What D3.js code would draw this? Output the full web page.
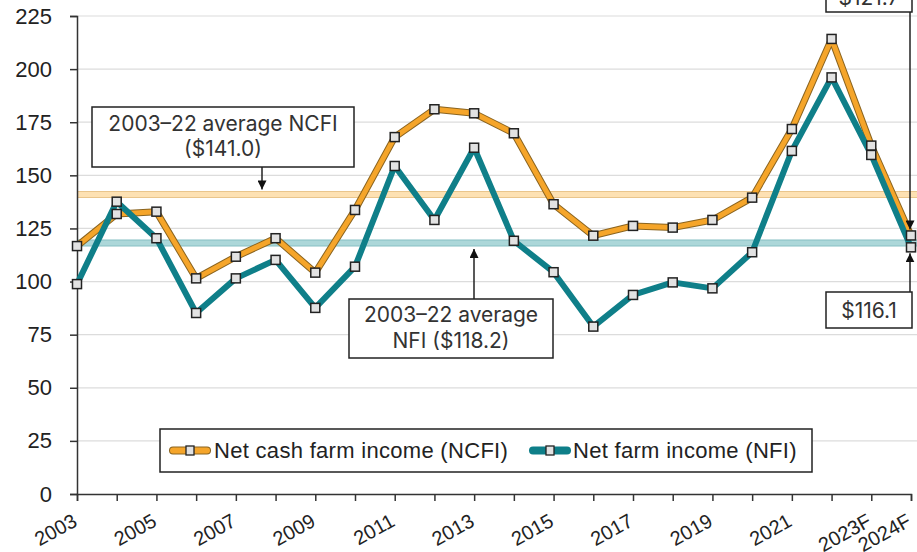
<!DOCTYPE html>
<html><head><meta charset="utf-8">
<script src="https://cdn.jsdelivr.net/npm/d3@7"></script>
<style>
body{margin:0;background:#fff;}
svg{display:block;}
</style></head>
<body>
<svg id="chart" width="917" height="552"></svg>
<script>
const years = [2003,2004,2005,2006,2007,2008,2009,2010,2011,2012,2013,2014,2015,2016,2017,2018,2019,2020,2021,2022,2023,2024];
const ncfi = [116.7,131.8,132.9,101.5,111.7,120.4,104.2,133.7,168.0,181.1,179.2,169.8,136.4,121.6,126.2,125.4,129.0,139.5,171.8,214.2,164.0,121.7];
const nfi  = [98.8,137.6,120.4,85.2,101.5,110.2,87.6,107.0,154.4,129.0,163.0,119.2,104.4,78.8,93.7,99.6,96.8,113.8,161.5,196.1,159.6,116.1];
const yTicks = [0,25,50,75,100,125,150,175,200,225];
const xLabels = {2003:"2003",2005:"2005",2007:"2007",2009:"2009",2011:"2011",2013:"2013",2015:"2015",2017:"2017",2019:"2019",2021:"2021",2023:"2023F",2024:"2024F"};
const avgNCFI = 141.0, avgNFI = 118.2;
const seriesNames = ["Net cash farm income (NCFI)","Net farm income (NFI)"];

const ORANGE = "#f5a52a", TEAL = "#0f7f89";
const svg = d3.select("#chart");
const x = d3.scaleLinear().domain([2003,2024]).range([77,911]);
const y = d3.scaleLinear().domain([0,225]).range([494,16]);

// gridlines
svg.append("g").selectAll("line").data(yTicks.filter(d=>d>0)).join("line")
  .attr("x1",77).attr("x2",917).attr("y1",d=>y(d)).attr("y2",d=>y(d))
  .attr("stroke","#dcdcdc").attr("stroke-width",1.2);

// average bands
function band(v, fill, edge){
  svg.append("line").attr("x1",77).attr("x2",917).attr("y1",y(v)).attr("y2",y(v))
    .attr("stroke",edge).attr("stroke-width",7);
  svg.append("line").attr("x1",77).attr("x2",917).attr("y1",y(v)).attr("y2",y(v))
    .attr("stroke",fill).attr("stroke-width",5);
}
band(avgNCFI,"#fde1b3","#e9c58c");
band(avgNFI,"#acd7d9","#86bfc3");

// axes
const yAxis = d3.axisLeft(y).tickValues(yTicks).tickSize(7).tickPadding(18);
const gy = svg.append("g").attr("transform","translate(77,0)").call(yAxis);
gy.select(".domain").attr("stroke","#333").attr("stroke-width",1.5);
gy.selectAll(".tick line").attr("stroke","#333").attr("stroke-width",1.5);
gy.selectAll("text").attr("font-family","Liberation Sans, Arial, sans-serif").attr("font-size",22).attr("fill","#222");

const xAxis = d3.axisBottom(x).tickValues(years).tickSize(7).tickFormat(d=>xLabels[d]||"");
const gx = svg.append("g").attr("transform","translate(0,494)").call(xAxis);
gx.select(".domain").attr("stroke","#333").attr("stroke-width",1.5);
gx.selectAll(".tick line").attr("stroke","#333").attr("stroke-width",1.5);
gx.selectAll("text").attr("font-family","Liberation Sans, Arial, sans-serif").attr("font-size",20).attr("fill","#222")
  .attr("text-anchor","end").attr("dy",0).attr("y",0)
  .attr("transform","translate(1,31) rotate(-29)");

// lines
const line = d3.line().x((d,i)=>x(years[i])).y(d=>y(d));
svg.append("path").datum(ncfi).attr("d",line).attr("fill","none").attr("stroke","#8a6420").attr("stroke-width",7).attr("stroke-linejoin","round");
svg.append("path").datum(ncfi).attr("d",line).attr("fill","none").attr("stroke",ORANGE).attr("stroke-width",5).attr("stroke-linejoin","round");
svg.append("path").datum(nfi).attr("d",line).attr("fill","none").attr("stroke",TEAL).attr("stroke-width",6).attr("stroke-linejoin","round");

function markers(data){
  svg.append("g").selectAll("rect").data(data).join("rect")
    .attr("x",(d,i)=>x(years[i])-4.5).attr("y",d=>y(d)-4.5)
    .attr("width",9).attr("height",9)
    .attr("fill","#e2e2e2").attr("stroke","#222").attr("stroke-width",1.5);
}
markers(ncfi);
markers(nfi);

// arrow marker
svg.append("defs").append("marker").attr("id","arr").attr("viewBox","0 0 10 10")
  .attr("refX",10).attr("refY",5).attr("markerWidth",9).attr("markerHeight",9)
  .attr("markerUnits","userSpaceOnUse").attr("orient","auto")
  .append("path").attr("d","M0,0 L10,5 L0,10 Z").attr("fill","#111");

const annFont = "Inter, Roboto, sans-serif";
function box(x0,y0,w,h,lines,cx,cy0,lh,fs){
  svg.append("rect").attr("x",x0).attr("y",y0).attr("width",w).attr("height",h)
    .attr("fill","#fff").attr("stroke","#222").attr("stroke-width",1.5);
  lines.forEach((t,i)=>svg.append("text").attr("x",cx).attr("y",cy0+i*lh)
    .attr("text-anchor","middle").attr("font-family",annFont).attr("font-size",fs).attr("fill","#333").text(t));
}
function arrow(x1,y1,x2,y2){
  svg.append("line").attr("x1",x1).attr("y1",y1).attr("x2",x2).attr("y2",y2)
    .attr("stroke","#222").attr("stroke-width",1.5).attr("marker-end","url(#arr)");
}

// NCFI average annotation
box(92,107,262,60,["2003\u201322 average NCFI","($141.0)"],223,131,25,21);
arrow(262,167,262,y(avgNCFI)-5);

// NFI average annotation
box(349,299,204,59,["2003\u201322 average","NFI ($118.2)"],451,322,26,21);
arrow(474,299,474,y(avgNFI)+6);

// 2024 annotations
box(826,-26,86,38,["$121.7"],869,5,0,21);
arrow(910,12,910,y(ncfi[21])-6);
box(826,292,86,36,["$116.1"],869,318,0,21);
arrow(910,292,910,y(nfi[21])+6);

// legend
const lg = svg.append("g");
lg.append("rect").attr("x",160).attr("y",429).attr("width",652).attr("height",43)
  .attr("fill","#fff").attr("stroke","#222").attr("stroke-width",1.5);
const items = [{name:seriesNames[0],color:ORANGE,edge:"#8a6420",sx:173,tx:214},{name:seriesNames[1],color:TEAL,edge:TEAL,sx:533,tx:573}];
items.forEach(it=>{
  lg.append("line").attr("x1",it.sx).attr("x2",it.sx+34).attr("y1",450.5).attr("y2",450.5)
    .attr("stroke",it.edge).attr("stroke-width",8).attr("stroke-linecap","round");
  lg.append("line").attr("x1",it.sx).attr("x2",it.sx+34).attr("y1",450.5).attr("y2",450.5)
    .attr("stroke",it.color).attr("stroke-width",6).attr("stroke-linecap","round");
  lg.append("rect").attr("x",it.sx+13).attr("y",446).attr("width",8).attr("height",9)
    .attr("fill","#e2e2e2").attr("stroke","#222").attr("stroke-width",1.3);
  lg.append("text").attr("x",it.tx).attr("y",458).attr("font-family","Liberation Sans, Arial, sans-serif")
    .attr("font-size",22).attr("letter-spacing",0.3).attr("fill","#222").text(it.name);
});
</script>
</body></html>
